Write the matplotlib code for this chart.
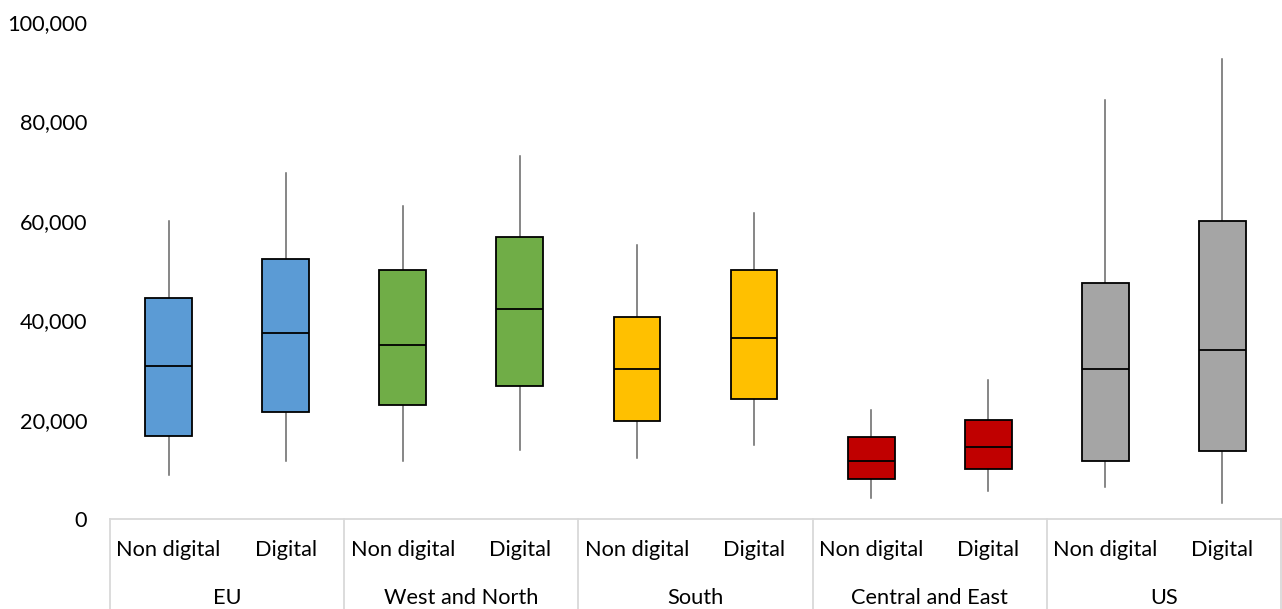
import matplotlib
matplotlib.use("Agg")
import matplotlib.pyplot as plt

groups = ["EU", "West and North", "South", "Central and East", "US"]
subcats = ["Non digital", "Digital"]
colors = ["#5B9BD5", "#70AD47", "#FFC000", "#C00000", "#A5A5A5"]

# per box (10 boxes: group x subcat)
whislo = [8800, 11600, 11600, 13900, 12200, 14900, 4200, 5600, 6400, 3200]
q1     = [16800, 21600, 22900, 26700, 19700, 24100, 8000, 10000, 11600, 13700]
med    = [30700, 37500, 35100, 42300, 30100, 36500, 11600, 14500, 30100, 34000]
q3     = [44500, 52400, 50100, 56700, 40700, 50100, 16400, 19900, 47400, 60000]
whishi = [60000, 69700, 62900, 73100, 55200, 61600, 21900, 28000, 84300, 92500]

yticks = [0, 20000, 40000, 60000, 80000, 100000]

FS = 15.7
W, H = 1282, 609
fig = plt.figure(figsize=(W / 100, H / 100), dpi=100)
ax = fig.add_axes([110 / W, (H - 519) / H, (1281 - 110) / W, (519 - 22) / H])

stats = []
for i in range(10):
    stats.append(dict(whislo=whislo[i], q1=q1[i], med=med[i], q3=q3[i],
                      whishi=whishi[i], fliers=[]))
positions = [i + 0.5 for i in range(10)]
bp = ax.bxp(stats, positions=positions, widths=0.4, patch_artist=True,
            showcaps=False, showfliers=False,
            boxprops=dict(edgecolor="black", linewidth=1.3),
            medianprops=dict(color="black", linewidth=1.3),
            whiskerprops=dict(color="#666666", linewidth=1.1))
for i, b in enumerate(bp["boxes"]):
    b.set_facecolor(colors[i // 2])
    b.set_zorder(3)
for m in bp["medians"]:
    m.set_zorder(4)

ax.set_xlim(0, 10)
ax.set_ylim(0, 100000)
ax.set_yticks(yticks)
ax.set_yticklabels([f"{v:,}" for v in yticks], fontsize=FS, family="Lato")
ax.tick_params(axis="y", length=0, pad=16.5)
ax.set_xticks([])
for s in ["top", "right", "left"]:
    ax.spines[s].set_visible(False)
ax.spines["bottom"].set_color("#d9d9d9")
ax.spines["bottom"].set_linewidth(1.3)

trans = ax.get_xaxis_transform()
px = 1 / (519 - 22)
for i in range(10):
    ax.text(positions[i], -31 * px, subcats[i % 2], transform=trans,
            ha="center", va="center", fontsize=FS, family="Lato", clip_on=False)
for g in range(5):
    ax.text(2 * g + 1, -79 * px, groups[g], transform=trans,
            ha="center", va="center", fontsize=FS, family="Lato", clip_on=False)
for g in range(6):
    ax.plot([2 * g, 2 * g], [0, -92 * px], transform=trans, color="#d9d9d9",
            lw=1.3, clip_on=False)

fig.savefig("out.png", dpi=100)
